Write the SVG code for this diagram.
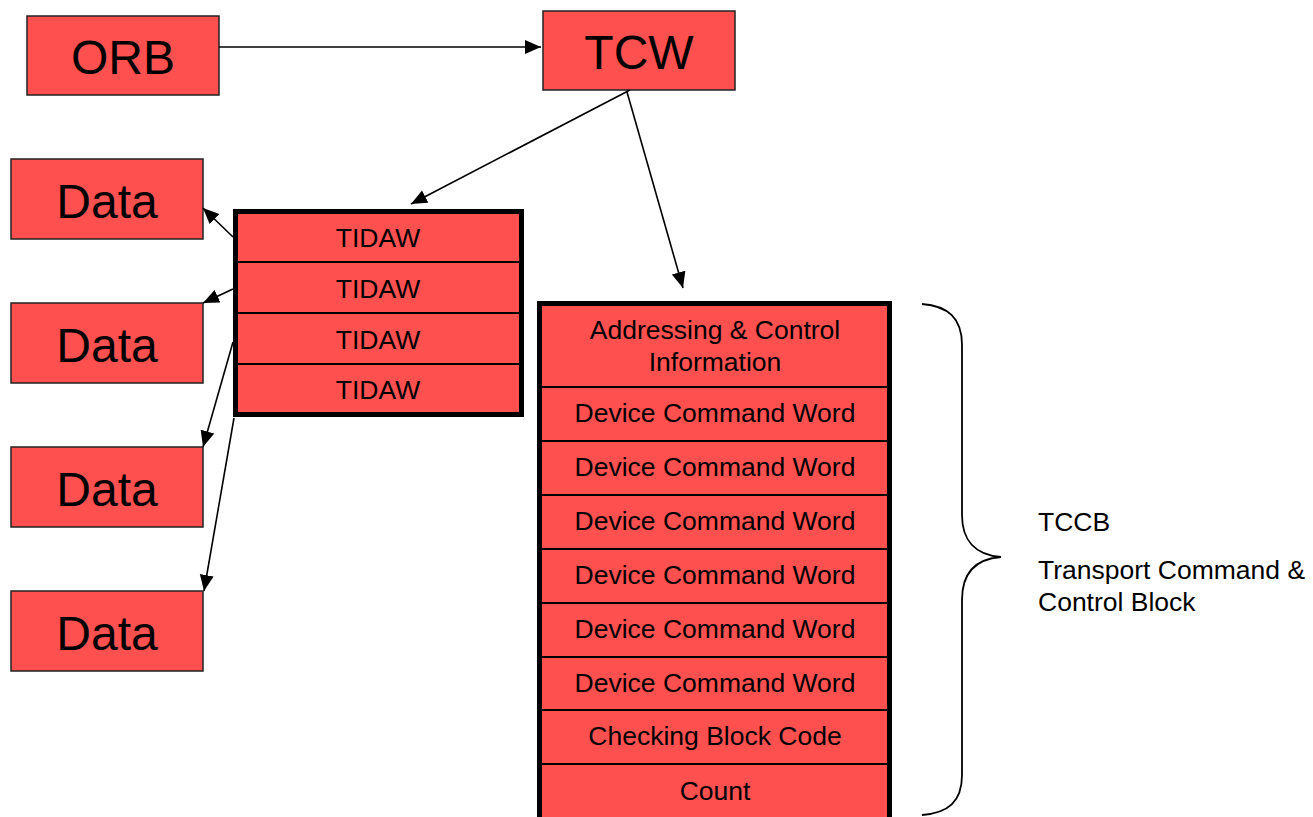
<svg xmlns="http://www.w3.org/2000/svg" width="1313" height="817" viewBox="0 0 1313 817">
<style>
.box{fill:#ff5050;stroke:#222;stroke-width:1.5}
.row{fill:#ff5050;stroke:#000;stroke-width:2}
.frame{fill:none;stroke:#000;stroke-width:5}
.big{font-family:"Liberation Sans",Arial,sans-serif;font-size:48px;fill:#000;text-anchor:middle}
.med{font-family:"Liberation Sans",Arial,sans-serif;font-size:26.5px;fill:#000;text-anchor:middle}
.lbl{font-family:"Liberation Sans",Arial,sans-serif;font-size:26.5px;fill:#000}
.conn{stroke:#000;stroke-width:1.6;fill:none;marker-end:url(#ah)}
</style>
<defs>
<marker id="ah" markerUnits="userSpaceOnUse" markerWidth="17" markerHeight="15" refX="16" refY="7" orient="auto">
<path d="M0,0 L16,7 L0,14 z" fill="#000"/>
</marker>
</defs>
<rect width="1313" height="817" fill="#fff"/>
<g id="orb"><rect class="box" x="27" y="16" width="192" height="79"/><text class="big" x="123" y="74">ORB</text></g>
<g id="tcw"><rect class="box" x="543" y="11" width="192" height="79"/><text class="big" x="639" y="69">TCW</text></g>
<g id="data1"><rect class="box" x="11" y="159" width="192" height="80"/><text class="big" x="107" y="218">Data</text></g>
<g id="data2"><rect class="box" x="11" y="303" width="192" height="80"/><text class="big" x="107" y="362">Data</text></g>
<g id="data3"><rect class="box" x="11" y="447" width="192" height="80"/><text class="big" x="107" y="506">Data</text></g>
<g id="data4"><rect class="box" x="11" y="591" width="192" height="80"/><text class="big" x="107" y="650">Data</text></g>
<g id="tidaw-list">
<g id="tidaw1"><rect class="row" x="236" y="212" width="285" height="50"/><text class="med" x="378" y="247">TIDAW</text></g>
<g id="tidaw2"><rect class="row" x="236" y="262" width="285" height="51"/><text class="med" x="378" y="298">TIDAW</text></g>
<g id="tidaw3"><rect class="row" x="236" y="313" width="285" height="51"/><text class="med" x="378" y="349">TIDAW</text></g>
<g id="tidaw4"><rect class="row" x="236" y="364" width="285" height="50"/><text class="med" x="378" y="399">TIDAW</text></g>
<rect class="frame" x="235.5" y="211.5" width="286" height="203"/>
</g>
<g id="tccb">
<g id="addr"><rect class="row" x="540" y="304" width="349" height="83"/><text class="med" x="715" y="339">Addressing &amp; Control</text><text class="med" x="715" y="371">Information</text></g>
<g id="dcw1"><rect class="row" x="540" y="387" width="349" height="54"/><text class="med" x="715" y="422">Device Command Word</text></g>
<g id="dcw2"><rect class="row" x="540" y="441" width="349" height="54"/><text class="med" x="715" y="476">Device Command Word</text></g>
<g id="dcw3"><rect class="row" x="540" y="495" width="349" height="54"/><text class="med" x="715" y="530">Device Command Word</text></g>
<g id="dcw4"><rect class="row" x="540" y="549" width="349" height="54"/><text class="med" x="715" y="584">Device Command Word</text></g>
<g id="dcw5"><rect class="row" x="540" y="603" width="349" height="54"/><text class="med" x="715" y="638">Device Command Word</text></g>
<g id="dcw6"><rect class="row" x="540" y="657" width="349" height="53"/><text class="med" x="715" y="692">Device Command Word</text></g>
<g id="cbc"><rect class="row" x="540" y="710" width="349" height="54"/><text class="med" x="715" y="745">Checking Block Code</text></g>
<g id="count"><rect class="row" x="540" y="764" width="349" height="54"/><text class="med" x="715" y="800">Count</text></g>
<rect class="frame" x="539.5" y="303.5" width="350" height="520"/>
</g>
<g id="brace">
<path d="M922,304 C948,306 962,318 962,345 L962,515 C962,540 975,555 1001,557 C975,559 962,574 962,600 L962,775 C962,802 948,813 922,815" fill="none" stroke="#000" stroke-width="1.8"/>
<text class="lbl" x="1038" y="531">TCCB</text>
<text class="lbl" x="1038" y="579">Transport Command &amp;</text>
<text class="lbl" x="1038" y="611">Control Block</text>
</g>
<g id="connectors">
<line class="conn" x1="219" y1="47" x2="541" y2="47"/>
<line class="conn" x1="630" y1="90" x2="411" y2="204"/>
<line class="conn" x1="627" y1="92" x2="683" y2="288"/>
<line class="conn" x1="233" y1="237" x2="203" y2="208"/>
<line class="conn" x1="233" y1="289" x2="203" y2="303"/>
<line class="conn" x1="233" y1="342" x2="203" y2="447"/>
<line class="conn" x1="234" y1="418" x2="204" y2="591"/>
</g>
</svg>
